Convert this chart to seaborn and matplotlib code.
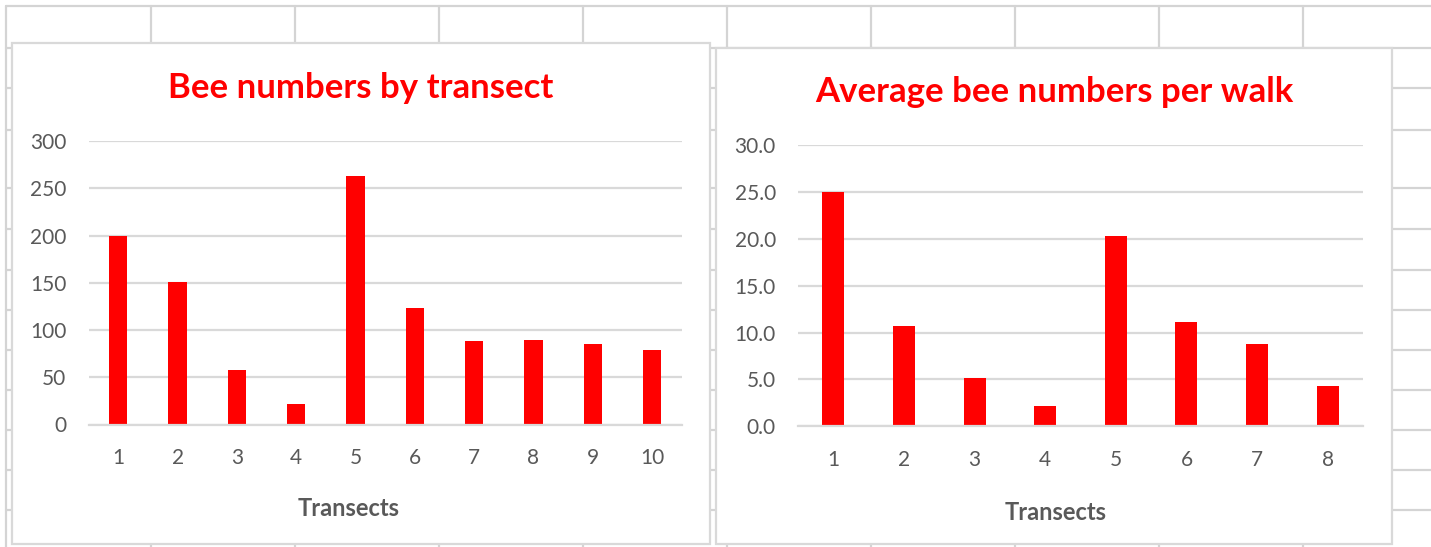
import numpy as np
import pandas as pd
import matplotlib
matplotlib.use("Agg")
import matplotlib.pyplot as plt
import seaborn as sns
from matplotlib.lines import Line2D
from matplotlib.patches import Rectangle
from matplotlib.ticker import FormatStrFormatter

# ---------------- data ----------------
transects_left = ["1", "2", "3", "4", "5", "6", "7", "8", "9", "10"]
bee_numbers = [200, 151, 58, 22, 263, 123, 88, 90, 85, 79]

transects_right = ["1", "2", "3", "4", "5", "6", "7", "8"]
avg_per_walk = [25.0, 10.7, 5.2, 2.2, 20.3, 11.1, 8.8, 4.3]

title_left = "Bee numbers by transect"
title_right = "Average bee numbers per walk"
xlabel = "Transects"

# ---------------- style ----------------
sns.set_style("white")
plt.rcParams['font.family'] = ['Lato', 'DejaVu Sans']

W, H = 1431, 547
fig = plt.figure(figsize=(W / 100, H / 100), dpi=100)
fig.patch.set_facecolor("white")


def fx(x):
    return x / W


def fy(y):
    return 1 - y / H


# spreadsheet background grid
grid_col = "#D4D4D4"
col_x = [6, 151, 295, 439, 583, 727, 871, 1015, 1159, 1303]
row_y = [6, 48, 88, 130, 188, 229, 270, 310, 350, 390, 430, 470, 510]
for x in col_x:
    fig.add_artist(Line2D([fx(x), fx(x)], [fy(6), fy(H + 5)], color=grid_col,
                          lw=1.6, transform=fig.transFigure, zorder=-5))
for y in row_y:
    fig.add_artist(Line2D([fx(6), fx(W + 5)], [fy(y), fy(y)], color=grid_col,
                          lw=1.6, transform=fig.transFigure, zorder=-5))

# chart boxes
for (x0, y0, x1, y1) in [(12, 43, 710, 544), (716, 48, 1392, 544)]:
    fig.add_artist(Rectangle((fx(x0), fy(y1)), fx(x1) - fx(x0), fy(y0) - fy(y1),
                             facecolor="white", edgecolor="#D9D9D9", lw=1.6,
                             transform=fig.transFigure, zorder=-4))

label_col = "#595959"
light = "#D9D9D9"


def style(ax, n, ymax, step, fmt):
    ax.set_facecolor("none")
    ax.set_ylim(0, ymax)
    ax.set_yticks(np.arange(0, ymax + step / 2, step))
    ax.yaxis.set_major_formatter(FormatStrFormatter(fmt))
    ax.set_xlim(-0.5, n - 0.5)
    ax.grid(axis="y", color=light, lw=1.6)
    ax.grid(axis="x", visible=False)
    ax.set_axisbelow(True)
    for s in ["left", "right", "top"]:
        ax.spines[s].set_visible(False)
    ax.spines["bottom"].set_color(light)
    ax.spines["bottom"].set_linewidth(1.6)
    ax.tick_params(axis="y", length=0, pad=16, labelsize=15, labelcolor=label_col)
    ax.tick_params(axis="x", which="major", length=0, pad=17, labelsize=15,
                   labelcolor=label_col)
    ax.set_xticks(np.arange(-0.5, n), minor=True)
    ax.tick_params(axis="x", which="minor", length=7, width=1.5, color=light,
                   direction="out")
    ax.set_xlabel("")
    ax.set_ylabel("")


# left chart
ax1 = fig.add_axes([fx(88.6), fy(424.5), fx(681.8) - fx(88.6), fy(141.3) - fy(424.5)])
df1 = pd.DataFrame({"Transect": transects_left, "Bees": bee_numbers})
sns.barplot(data=df1, x="Transect", y="Bees", color="#FF0000", saturation=1,
            width=0.31, linewidth=0, ax=ax1)
style(ax1, len(transects_left), 300, 50, "%d")

# right chart
ax2 = fig.add_axes([fx(798), fy(426.2), fx(1363) - fx(798), fy(145.4) - fy(426.2)])
df2 = pd.DataFrame({"Transect": transects_right, "Average": avg_per_walk})
sns.barplot(data=df2, x="Transect", y="Average", color="#FF0000", saturation=1,
            width=0.31, linewidth=0, ax=ax2)
style(ax2, len(transects_right), 30, 5, "%.1f")

# titles and axis titles
fig.text(fx(361), fy(88), title_left, color="#FF0000", fontsize=25,
         fontweight="bold", ha="center", va="center")
fig.text(fx(1054), fy(92), title_right, color="#FF0000", fontsize=25,
         fontweight="bold", ha="center", va="center")
fig.text(fx(349), fy(508), xlabel, color=label_col, fontsize=17,
         fontweight="bold", ha="center", va="center")
fig.text(fx(1056), fy(513), xlabel, color=label_col, fontsize=17,
         fontweight="bold", ha="center", va="center")

fig.savefig("out.png", dpi=100, facecolor="white")
